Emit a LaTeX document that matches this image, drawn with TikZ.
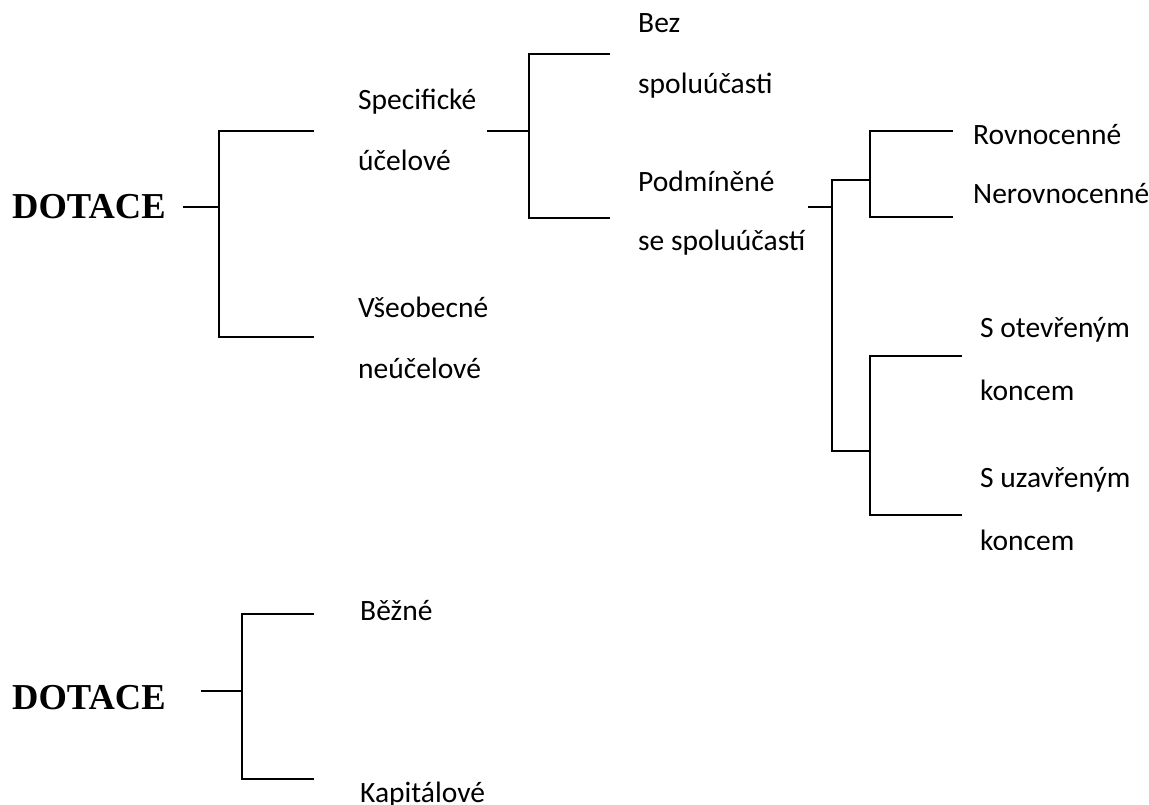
\documentclass[tikz,border=0pt]{standalone}
\usepackage{fontspec}
\setmainfont{Carlito}
\newfontfamily\tnr{Liberation Serif}
\begin{document}
\begin{tikzpicture}[x=1pt,y=-1pt,
  lbl/.style={anchor=base west, inner sep=0pt, font=\fontsize{29.5}{30}\selectfont},
  head/.style={anchor=base west, inner sep=0pt, font=\tnr\bfseries\fontsize{36.5}{37}\selectfont},
  link/.style={draw=black, line width=1.7pt}]
\useasboundingbox (0,0) rectangle (1149,805);
% ---- tree 1 ----
\node[head] (d1) at (12,219) {DOTACE};
\node[lbl] (spec1) at (358,110) {Specifické};
\node[lbl] (spec2) at (358,171) {účelové};
\node[lbl] (vse1) at (358,317) {Všeobecné};
\node[lbl] (vse2) at (358,378) {neúčelové};
\node[lbl] (bez1) at (638,33) {Bez};
\node[lbl] (bez2) at (638,94) {spoluúčasti};
\node[lbl] (pod1) at (638,192) {Podmíněné};
\node[lbl] (pod2) at (638,251) {se spoluúčastí};
\node[lbl] (rov) at (973,145) {Rovnocenné};
\node[lbl] (nerov) at (973,204) {Nerovnocenné};
\node[lbl] (ot1) at (980,337) {S otevřeným};
\node[lbl] (ot2) at (980,400) {koncem};
\node[lbl] (uz1) at (980,487) {S uzavřeným};
\begin{scope}
  \clip (940,500) rectangle (1149,549.5);
  \node[lbl] (uz2) at (980,550) {koncem};
\end{scope}
% coordinates
\coordinate (d1s) at (183,207);
\coordinate (a0) at (219,207);
\coordinate (a1) at (314,131); \coordinate (a2) at (219,131);
\coordinate (a3) at (219,337); \coordinate (a4) at (314,337);
\coordinate (b0s) at (487,131); \coordinate (b0) at (529,131);
\coordinate (b1) at (610,54); \coordinate (b2) at (529,54);
\coordinate (b3) at (529,218); \coordinate (b4) at (610,218);
\coordinate (c0s) at (808,207); \coordinate (c0) at (832,207);
\coordinate (c1) at (870,180); \coordinate (c2) at (832,180);
\coordinate (c3) at (832,451); \coordinate (c4) at (870,451);
\coordinate (e1) at (953,131); \coordinate (e2) at (870,131);
\coordinate (e3) at (870,217); \coordinate (e4) at (953,217);
\coordinate (f1) at (962,356); \coordinate (f2) at (870,356);
\coordinate (f3) at (870,515); \coordinate (f4) at (962,515);
\draw[link] (d1s) -- (a0);
\draw[link] (a1) -- (a2) -- (a3) -- (a4);
\draw[link] (b0s) -- (b0);
\draw[link] (b1) -- (b2) -- (b3) -- (b4);
\draw[link] (c0s) -- (c0);
\draw[link] (c1) -- (c2) -- (c3) -- (c4);
\draw[link] (e1) -- (e2) -- (e3) -- (e4);
\draw[link] (f1) -- (f2) -- (f3) -- (f4);
% ---- tree 2 ----
\node[head] (d2) at (12,709) {DOTACE};
\node[lbl] (bez) at (360,620) {Běžné};
\node[lbl] (kap) at (360,802) {Kapitálové};
\coordinate (g0s) at (201,691); \coordinate (g0) at (242,691);
\coordinate (g1) at (314,614); \coordinate (g2) at (242,614);
\coordinate (g3) at (242,779); \coordinate (g4) at (314,779);
\draw[link] (g0s) -- (g0);
\draw[link] (g1) -- (g2) -- (g3) -- (g4);
\end{tikzpicture}
\end{document}
